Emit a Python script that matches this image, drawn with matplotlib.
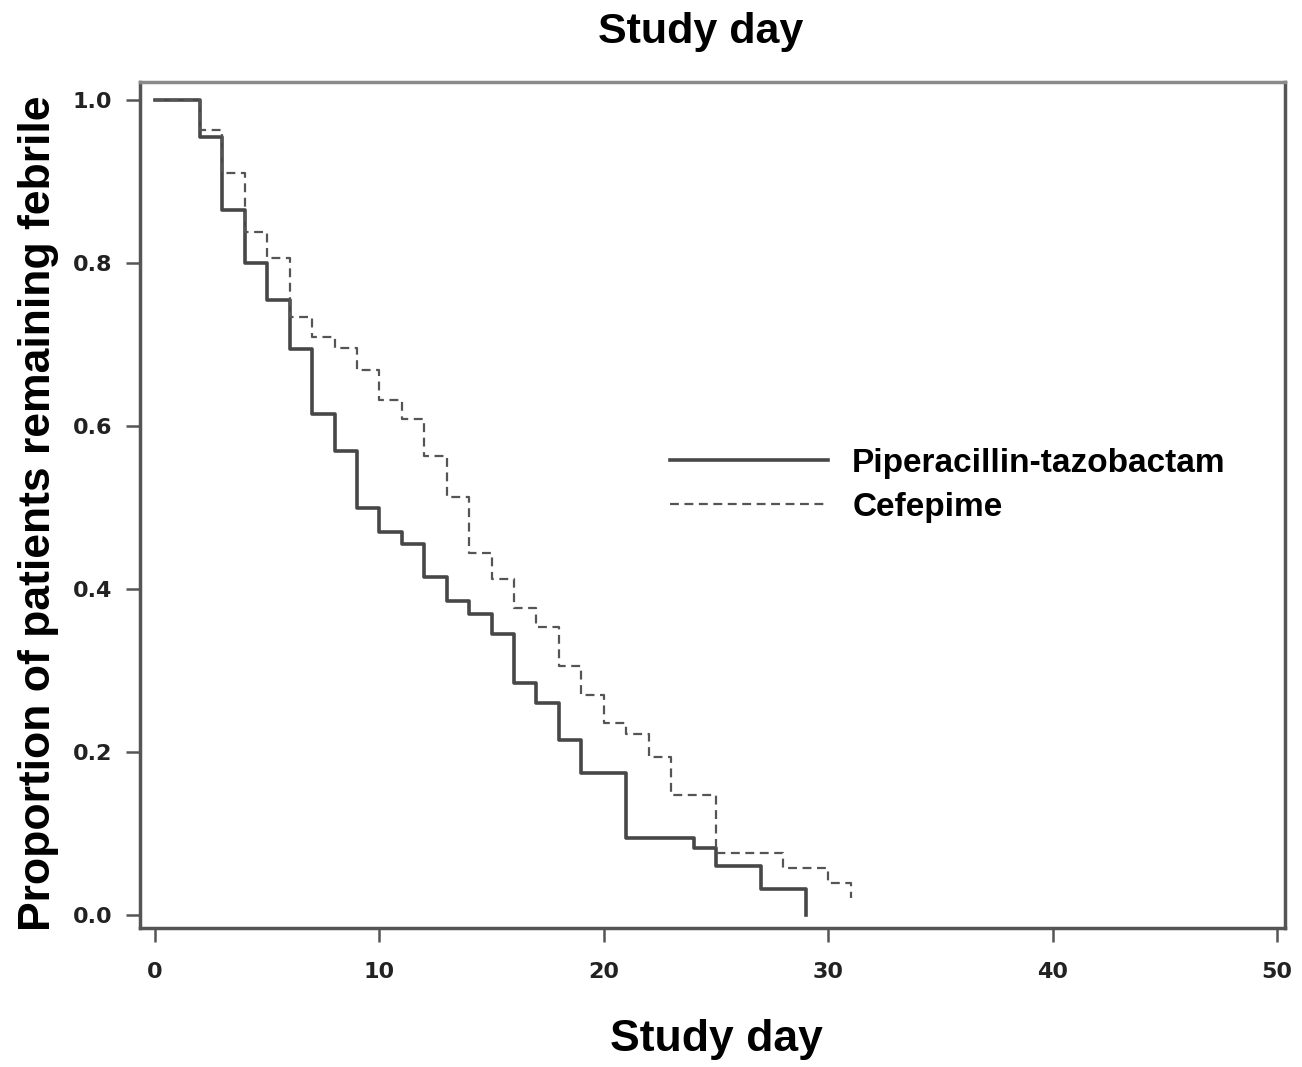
import numpy as np
import matplotlib
matplotlib.use("Agg")
from matplotlib import pyplot as plt

# Kaplan-Meier style step data
pip_days = [0, 2, 3, 4, 5, 6, 7, 8, 9, 10, 11, 12, 13, 14, 15, 16, 17, 18, 19, 21, 24, 25, 27, 29]
pip_prop = [1.0, 0.955, 0.865, 0.80, 0.755, 0.695, 0.615, 0.57, 0.50, 0.47, 0.455, 0.415,
            0.385, 0.37, 0.345, 0.285, 0.26, 0.215, 0.175, 0.095, 0.083, 0.06, 0.032, 0.0]

cef_days = [0, 2, 3, 4, 5, 6, 7, 8, 9, 10, 11, 12, 13, 14, 15, 16, 17, 18, 19, 20, 21, 22, 23,
            25, 28, 30, 31]
cef_prop = [1.0, 0.963, 0.91, 0.838, 0.806, 0.734, 0.709, 0.696, 0.669, 0.632, 0.609, 0.564,
            0.513, 0.444, 0.413, 0.377, 0.353, 0.306, 0.27, 0.236, 0.222, 0.194, 0.148,
            0.076, 0.058, 0.039, 0.021]

x_ticks = [0, 10, 20, 30, 40, 50]
y_ticks = [0.0, 0.2, 0.4, 0.6, 0.8, 1.0]

plt.rcParams['font.family'] = ['Liberation Sans', 'DejaVu Sans']

fig = plt.figure(figsize=(13.02, 10.67), dpi=100)
ax = fig.add_axes([0.1075, 0.130, 0.8795, 0.793])

ax.step(pip_days, pip_prop, where='post', color='#474747', lw=2.6,
        label='Piperacillin-tazobactam')
ax.step(cef_days, cef_prop, where='post', color='#555555', lw=1.6,
        dashes=(4, 2.5), label='Cefepime')

ax.set_xlim(-0.67, 50.36)
ax.set_ylim(-0.016, 1.022)
ax.set_xticks(x_ticks)
ax.set_yticks(y_ticks)
ax.set_xticklabels([str(t) for t in x_ticks])
ax.set_yticklabels(['%.1f' % t for t in y_ticks])

for s in ax.spines.values():
    s.set_color('#555555')
    s.set_linewidth(2.5)
ax.spines['top'].set_color('#8a8a8a')

ax.tick_params(axis='both', direction='out', length=10, width=1.8, color='#555555',
               labelsize=16, labelcolor='#222222')
ax.tick_params(axis='x', pad=14)
ax.tick_params(axis='y', pad=10)
for lab in ax.get_xticklabels() + ax.get_yticklabels():
    lab.set_family(['DejaVu Sans'])
    lab.set_fontweight('bold')

ax.set_xlabel('Study day', fontsize=32, fontweight='bold', va='center')
ax.xaxis.set_label_coords(0.503, -0.132)
ax.set_ylabel('Proportion of patients remaining febrile', fontsize=32, fontweight='bold',
              va='center')
ax.yaxis.set_label_coords(-0.089, 0.49)
ax.text(0.49, 1.059, 'Study day', transform=ax.transAxes, ha='center', va='center',
        fontsize=31, fontweight='bold')

leg = ax.legend(loc='center left', bbox_to_anchor=(0.463, 0.5236), frameon=False,
                fontsize=24, handlelength=4.74, handletextpad=0.72, labelspacing=0.39,
                borderpad=0, borderaxespad=0)
for t in leg.get_texts():
    t.set_fontweight('bold')

fig.savefig('out.png', dpi=100, facecolor='white')
